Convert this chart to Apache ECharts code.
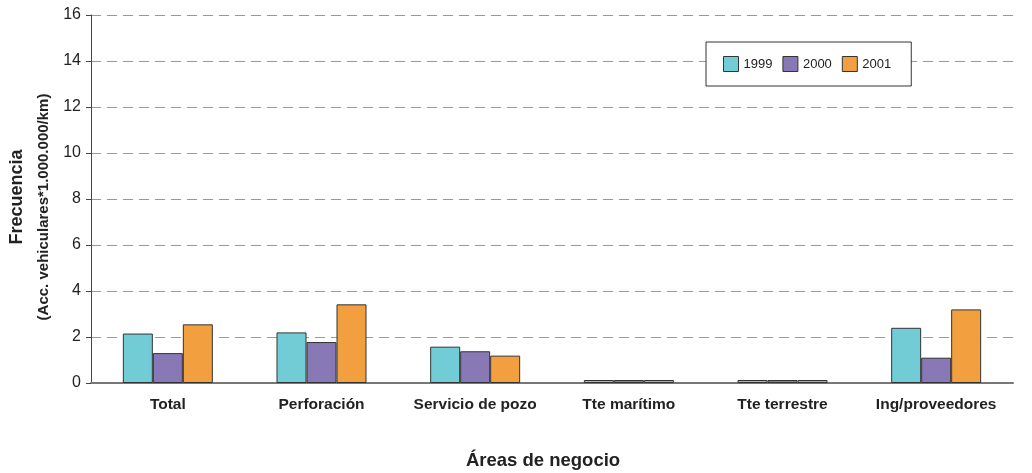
<!DOCTYPE html>
<html><head><meta charset="utf-8">
<script src="https://cdn.jsdelivr.net/npm/echarts@6/dist/echarts.min.js"></script>
<style>html,body{margin:0;padding:0;background:#fff}#c{width:1032px;height:473px}</style>
</head><body><div id="c"></div>
<script>
const categories = ['Total', 'Perforación', 'Servicio de pozo', 'Tte marítimo', 'Tte terrestre', 'Ing/proveedores'];
const seriesNames = ['1999', '2000', '2001'];
const v1999 = [2.15, 2.2, 1.58, 0.13, 0.13, 2.4];
const v2000 = [1.3, 1.78, 1.38, 0.13, 0.13, 1.1];
const v2001 = [2.55, 3.42, 1.19, 0.13, 0.13, 3.2];
const yTicks = [0, 2, 4, 6, 8, 10, 12, 14, 16];
const colors = ['#72CCD6', '#8878B6', '#F2A03F'];
const FONT = '"Liberation Sans", Arial, sans-serif';

const chart = echarts.init(document.getElementById('c'));
const mk = (name, data, i) => ({
  name, type: 'bar', data, barWidth: 30, barGap: '0%',
  itemStyle: { color: colors[i], borderColor: '#333', borderWidth: 1 }
});
chart.setOption({
  animation: false,
  textStyle: { fontFamily: FONT },
  grid: { left: 91, right: 19, top: 15, bottom: 90, containLabel: false, outerBoundsMode: 'none' },
  legend: {
    data: seriesNames, left: 706, top: 42,
    padding: [14, 20, 14, 17], itemGap: 10,
    borderColor: '#333', borderWidth: 1, backgroundColor: '#fff',
    icon: 'rect', itemWidth: 15, itemHeight: 15,
    itemStyle: { borderColor: '#333', borderWidth: 1 },
    textStyle: { fontFamily: FONT, fontSize: 13, color: '#222' }
  },
  xAxis: {
    type: 'category', data: categories,
    axisLine: { lineStyle: { color: '#777', width: 2 } },
    axisTick: { show: false },
    axisLabel: { interval: 0, hideOverlap: false, fontFamily: FONT, fontSize: 15.5, fontWeight: 'bold', color: '#222', margin: 14 }
  },
  yAxis: {
    type: 'value', min: yTicks[0], max: yTicks[yTicks.length - 1], interval: 2,
    axisLine: { show: true, lineStyle: { color: '#444', width: 1 } },
    axisTick: { show: true, length: 5, lineStyle: { color: '#444' } },
    axisLabel: { fontFamily: FONT, fontSize: 16, color: '#222', margin: 10 },
    splitLine: { show: true, lineStyle: { color: '#999', type: [10, 6], width: 1 } }
  },
  graphic: [
    { type: 'text', x: 17, y: 197, rotation: Math.PI / 2,
      style: { text: 'Frecuencia', font: 'bold 18px ' + FONT, fill: '#222', align: 'center', verticalAlign: 'middle' } },
    { type: 'text', x: 44, y: 207, rotation: Math.PI / 2,
      style: { text: '(Acc. vehiculares*1.000.000/km)', font: 'bold 15px ' + FONT, fill: '#222', align: 'center', verticalAlign: 'middle' } },
    { type: 'text', x: 543, y: 461,
      style: { text: 'Áreas de negocio', font: 'bold 18.5px ' + FONT, fill: '#222', align: 'center', verticalAlign: 'middle' } }
  ],
  series: [mk('1999', v1999, 0), mk('2000', v2000, 1), mk('2001', v2001, 2)]
});
</script></body></html>
